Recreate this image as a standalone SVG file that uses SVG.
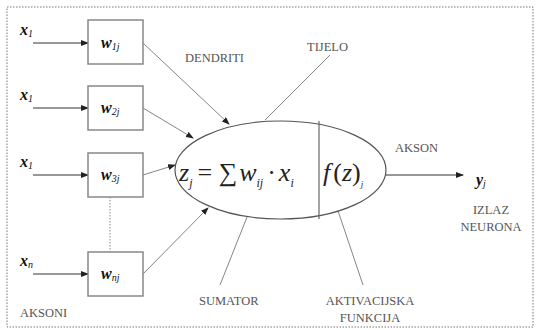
<svg xmlns="http://www.w3.org/2000/svg" width="537" height="330" viewBox="0 0 537 330">
<style>
.lbl{font-size:12.5px;fill:#555}
.var{font-size:16px;font-weight:bold;font-style:italic;fill:#111}
.sub{font-size:10px;font-weight:normal}
.box{fill:#fff;stroke:#888;stroke-width:1.5}
.ln{stroke:#333;stroke-width:1;fill:none}
.thin{stroke:#666;stroke-width:0.8;fill:none}
.f{font-style:italic;font-size:26px;fill:#222}
</style>
<defs>
<marker id="ah" markerWidth="8" markerHeight="6" refX="7" refY="3" orient="auto" markerUnits="userSpaceOnUse">
<path d="M0,0 L8,3 L0,6 z" fill="#222"/>
</marker>
</defs>
<rect width="537" height="330" fill="#fff"/>
<rect x="7" y="7" width="526" height="320" fill="none" stroke="#777" stroke-width="1" stroke-dasharray="1.5,1.5"/>
<g id="connectors">
<line class="ln" x1="33" y1="43" x2="88" y2="43" marker-end="url(#ah)"/>
<line class="ln" x1="33" y1="108" x2="88" y2="108" marker-end="url(#ah)" stroke-width="1.5"/>
<line class="ln" x1="33" y1="175" x2="88" y2="175" marker-end="url(#ah)"/>
<line class="ln" x1="33" y1="274" x2="88" y2="274" marker-end="url(#ah)"/>
<line class="thin" x1="143" y1="43" x2="229" y2="124" marker-end="url(#ah)"/>
<line class="thin" x1="143" y1="108" x2="193" y2="138" marker-end="url(#ah)"/>
<line class="thin" x1="143" y1="175" x2="175" y2="165" marker-end="url(#ah)"/>
<line class="thin" x1="143" y1="274" x2="208" y2="208" marker-end="url(#ah)"/>
<line x1="110" y1="197" x2="110" y2="252" stroke="#888" stroke-width="1" stroke-dasharray="1.5,1.5"/>
<line class="ln" x1="386" y1="175" x2="463" y2="175" marker-end="url(#ah)"/>
<line class="thin" x1="330" y1="55" x2="265" y2="120"/>
<line class="thin" x1="255" y1="197" x2="220" y2="285"/>
<line class="thin" x1="330" y1="187" x2="363" y2="285"/>
</g>
<g font-family="Liberation Serif, serif">
<g id="inputs">
<text class="var" x="20" y="35">x<tspan class="sub" dy="2">1</tspan></text>
<text class="var" x="20" y="100">x<tspan class="sub" dy="2">1</tspan></text>
<text class="var" x="20" y="167">x<tspan class="sub" dy="2">1</tspan></text>
<text class="var" x="20" y="266">x<tspan class="sub" dy="2">n</tspan></text>
</g>
<g id="w1j"><rect class="box" x="88" y="20" width="55" height="44"/><text class="var" x="101" y="48">w<tspan class="sub" dy="2">1j</tspan></text></g>
<g id="w2j"><rect class="box" x="88" y="86" width="55" height="44"/><text class="var" x="101" y="113">w<tspan class="sub" dy="2">2j</tspan></text></g>
<g id="w3j"><rect class="box" x="88" y="153" width="55" height="44"/><text class="var" x="101" y="180">w<tspan class="sub" dy="2">3j</tspan></text></g>
<g id="wnj"><rect class="box" x="88" y="252" width="55" height="44"/><text class="var" x="101" y="279">w<tspan class="sub" dy="2">nj</tspan></text></g>
<g id="neuron">
<ellipse cx="280.5" cy="170" rx="105.5" ry="49" fill="#fff" stroke="#555" stroke-width="1.2"/>
<line x1="319" y1="121" x2="319" y2="219" stroke="#666" stroke-width="1.2"/>
<text class="f" x="179" y="181">z<tspan font-size="12" dy="6">j</tspan><tspan dy="-6" dx="5" font-style="normal">= ∑</tspan><tspan dx="2">w</tspan><tspan font-size="12" dy="6">ij</tspan><tspan dy="-6" dx="4" font-style="normal">·</tspan><tspan dx="3">x</tspan><tspan font-size="12" dy="6">i</tspan></text>
<text class="f" x="323" y="181">f<tspan font-style="normal" dx="3">(</tspan>z<tspan font-style="normal">)</tspan><tspan font-size="9" dy="6">j</tspan></text>
</g>
<g id="labels">
<text class="lbl" x="185" y="62">DENDRITI</text>
<text class="lbl" x="307" y="51">TIJELO</text>
<text class="lbl" x="395" y="152">AKSON</text>
<text class="var" x="476" y="185">y<tspan class="sub" dy="2">j</tspan></text>
<text class="lbl" x="491" y="214" text-anchor="middle">IZLAZ</text>
<text class="lbl" x="491" y="231" text-anchor="middle">NEURONA</text>
<text class="lbl" x="199" y="305">SUMATOR</text>
<text class="lbl" x="370" y="305" text-anchor="middle">AKTIVACIJSKA</text>
<text class="lbl" x="370" y="322" text-anchor="middle">FUNKCIJA</text>
<text class="lbl" x="20" y="317">AKSONI</text>
</g>
</g>
</svg>
